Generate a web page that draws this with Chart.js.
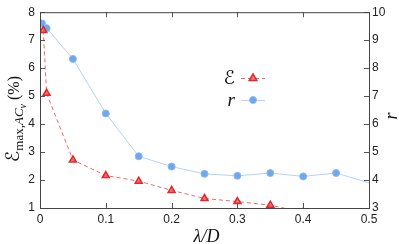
<!DOCTYPE html>
<html>
<head>
<meta charset="utf-8">
<script src="https://cdn.jsdelivr.net/npm/chart.js@4"></script>
<style>
  html, body { margin: 0; padding: 0; background: #fff; }
  #wrap { width: 399px; height: 244px; }
</style>
</head>
<body>
<div id="wrap"><canvas id="chart"></canvas></div>
<script>
// datos
const lambdaE = [0.005, 0.01, 0.05, 0.1, 0.15, 0.2, 0.25, 0.3, 0.35, 0.4, 0.45, 0.5];
const errMax = [7.35, 5.1, 2.72, 2.16, 1.96, 1.63, 1.34, 1.23, 1.1, 0.85, 0.72, 0.6];
const lambdaR = [0.003, 0.01, 0.05, 0.1, 0.15, 0.2, 0.25, 0.3, 0.35, 0.4, 0.45, 0.5];
const rVals = [9.6, 9.43, 8.33, 6.38, 4.85, 4.48, 4.22, 4.15, 4.25, 4.13, 4.25, 3.9];
const xTicks = [0, 0.1, 0.2, 0.3, 0.4, 0.5];
const leftTicks = [1, 2, 3, 4, 5, 6, 7, 8];
const rightTicks = [3, 4, 5, 6, 7, 8, 9, 10];

const RED = '#e3262b';
const BLUE = '#6fa6ec';
const tickFont = { family: "'Liberation Sans', Arial, sans-serif", size: 12 };
const scriptFont = "19px 'DejaVu Sans', serif";

// marcas de graduacion hacia dentro (estilo gnuplot) + titulos + leyenda
const decor = {
    id: 'decor',
    afterDraw(chart) {
        const ctx = chart.ctx;
        const a = chart.chartArea;
        const sx = chart.scales.x, sy = chart.scales.y, sy2 = chart.scales.y2;
        const len = 5;
        ctx.save();
        ctx.strokeStyle = '#555';
        ctx.lineWidth = 1;
        ctx.beginPath();
        xTicks.forEach(v => {
            const px = Math.round(sx.getPixelForValue(v)) + 0.5;
            ctx.moveTo(px, a.bottom); ctx.lineTo(px, a.bottom - len);
            ctx.moveTo(px, a.top); ctx.lineTo(px, a.top + len);
        });
        leftTicks.forEach(v => {
            const py = Math.round(sy.getPixelForValue(v)) + 0.5;
            ctx.moveTo(a.left, py); ctx.lineTo(a.left + len, py);
        });
        rightTicks.forEach(v => {
            const py = Math.round(sy2.getPixelForValue(v)) + 0.5;
            ctx.moveTo(a.right, py); ctx.lineTo(a.right - len, py);
        });
        ctx.stroke();
        ctx.strokeStyle = '#444';
        ctx.strokeRect(a.left + 0.5, a.top + 0.5, a.right - a.left, a.bottom - a.top);

        // titulo eje x
        ctx.fillStyle = '#111';
        ctx.textBaseline = 'alphabetic';
        ctx.textAlign = 'center';
        ctx.font = "italic 18px 'Liberation Serif', serif";
        ctx.fillText('λ/D', (a.left + a.right) / 2 + 2, 242);

        // titulo eje y2
        ctx.save();
        ctx.translate(393, (a.top + a.bottom) / 2 + 6);
        ctx.rotate(-Math.PI / 2);
        ctx.font = "italic 18px 'Liberation Serif', serif";
        ctx.fillText('r', 0, 4);
        ctx.restore();

        // titulo eje y con subindices
        ctx.save();
        ctx.translate(14, (a.top + a.bottom) / 2 + 9);
        ctx.rotate(-Math.PI / 2);
        ctx.textAlign = 'left';
        const parts = [
            { t: 'ℰ', f: scriptFont, dy: 0 },
            { t: 'max,', f: "13px 'Liberation Serif', serif", dy: 4 },
            { t: 'AC', f: "italic 13px 'Liberation Serif', serif", dy: 4 },
            { t: 'v', f: "italic 10px 'Liberation Serif', serif", dy: 7 },
            { t: ' (%)', f: "16px 'Liberation Serif', serif", dy: 0 }
        ];
        let w = 0;
        parts.forEach(p => { ctx.font = p.f; w += ctx.measureText(p.t).width; });
        let x0 = -w / 2;
        parts.forEach(p => {
            ctx.font = p.f;
            ctx.fillText(p.t, x0, 5 + p.dy);
            x0 += ctx.measureText(p.t).width;
        });
        ctx.restore();

        // leyenda
        const lx = 241, lw = 24;
        const rows = [
            { label: 'ℰ', font: scriptFont, ds: chart.data.datasets[0], y: 78, rad: 4 },
            { label: 'r', font: "italic 19px 'Liberation Serif', serif", ds: chart.data.datasets[1], y: 100, rad: 3.5 }
        ];
        rows.forEach(r => {
            ctx.font = r.font;
            ctx.textAlign = 'right';
            ctx.fillStyle = '#111';
            ctx.fillText(r.label, lx - 6, r.y + 6);
            ctx.strokeStyle = r.ds.borderColor;
            ctx.lineWidth = 1;
            ctx.setLineDash(r.ds.borderDash || []);
            ctx.beginPath();
            ctx.moveTo(lx, r.y + 0.5); ctx.lineTo(lx + lw, r.y + 0.5);
            ctx.stroke();
            ctx.setLineDash([]);
            ctx.fillStyle = r.ds.pointBackgroundColor;
            ctx.strokeStyle = r.ds.pointBorderColor;
            ctx.lineWidth = r.ds.pointBorderWidth;
            ctx.beginPath();
            const cx = lx + lw / 2, cy = r.y;
            if (r.ds.pointStyle === 'triangle') {
                ctx.moveTo(cx, cy - r.rad);
                ctx.lineTo(cx + r.rad * 0.95, cy + r.rad * 0.6);
                ctx.lineTo(cx - r.rad * 0.95, cy + r.rad * 0.6);
                ctx.closePath();
            } else {
                ctx.arc(cx, cy, r.rad, 0, Math.PI * 2);
            }
            ctx.fill();
            ctx.stroke();
        });
        ctx.restore();
    }
};

new Chart(document.getElementById('chart'), {
    type: 'line',
    data: {
        datasets: [
            {
                label: 'ℰ',
                data: lambdaE.map((x, i) => ({ x: x, y: errMax[i] })),
                yAxisID: 'y',
                borderColor: '#ea6a6c',
                borderWidth: 1,
                borderDash: [4, 3],
                pointStyle: 'triangle',
                pointRadius: 4,
                pointBorderWidth: 1.5,
                pointBackgroundColor: 'rgba(235,80,82,0.75)',
                pointBorderColor: RED,
                tension: 0
            },
            {
                label: 'r',
                data: lambdaR.map((x, i) => ({ x: x, y: rVals[i] })),
                yAxisID: 'y2',
                borderColor: '#b8d2f2',
                borderWidth: 1,
                pointStyle: 'circle',
                pointRadius: ctx => (ctx.dataIndex === rVals.length - 1 ? 0 : 3.5),
                pointBorderWidth: 1,
                pointBackgroundColor: BLUE,
                pointBorderColor: '#8ab8f0',
                tension: 0
            }
        ]
    },
    options: {
        responsive: true,
        maintainAspectRatio: false,
        animation: false,
        layout: { padding: { top: 10, left: 0, right: 0, bottom: 0 } },
        plugins: {
            legend: { display: false },
            tooltip: { enabled: false }
        },
        scales: {
            x: {
                type: 'linear',
                min: 0, max: 0.5,
                afterFit: s => { s.height = 36; },
                afterBuildTicks: s => { s.ticks = xTicks.map(v => ({ value: v })); },
                grid: { display: false, drawTicks: false },
                border: { display: false },
                ticks: { color: '#222', font: tickFont, padding: 4, maxRotation: 0 }
            },
            y: {
                position: 'left',
                min: 1, max: 8,
                afterFit: s => { s.width = 40; },
                afterBuildTicks: s => { s.ticks = leftTicks.map(v => ({ value: v })); },
                grid: { display: false, drawTicks: false },
                border: { display: false },
                ticks: { color: '#222', font: tickFont, padding: 5 }
            },
            y2: {
                position: 'right',
                min: 3, max: 10,
                afterFit: s => { s.width = 30; },
                afterBuildTicks: s => { s.ticks = rightTicks.map(v => ({ value: v })); },
                grid: { display: false, drawTicks: false },
                border: { display: false },
                ticks: { color: '#222', font: tickFont, padding: 3 }
            }
        }
    },
    plugins: [decor]
});
</script>
</body>
</html>
